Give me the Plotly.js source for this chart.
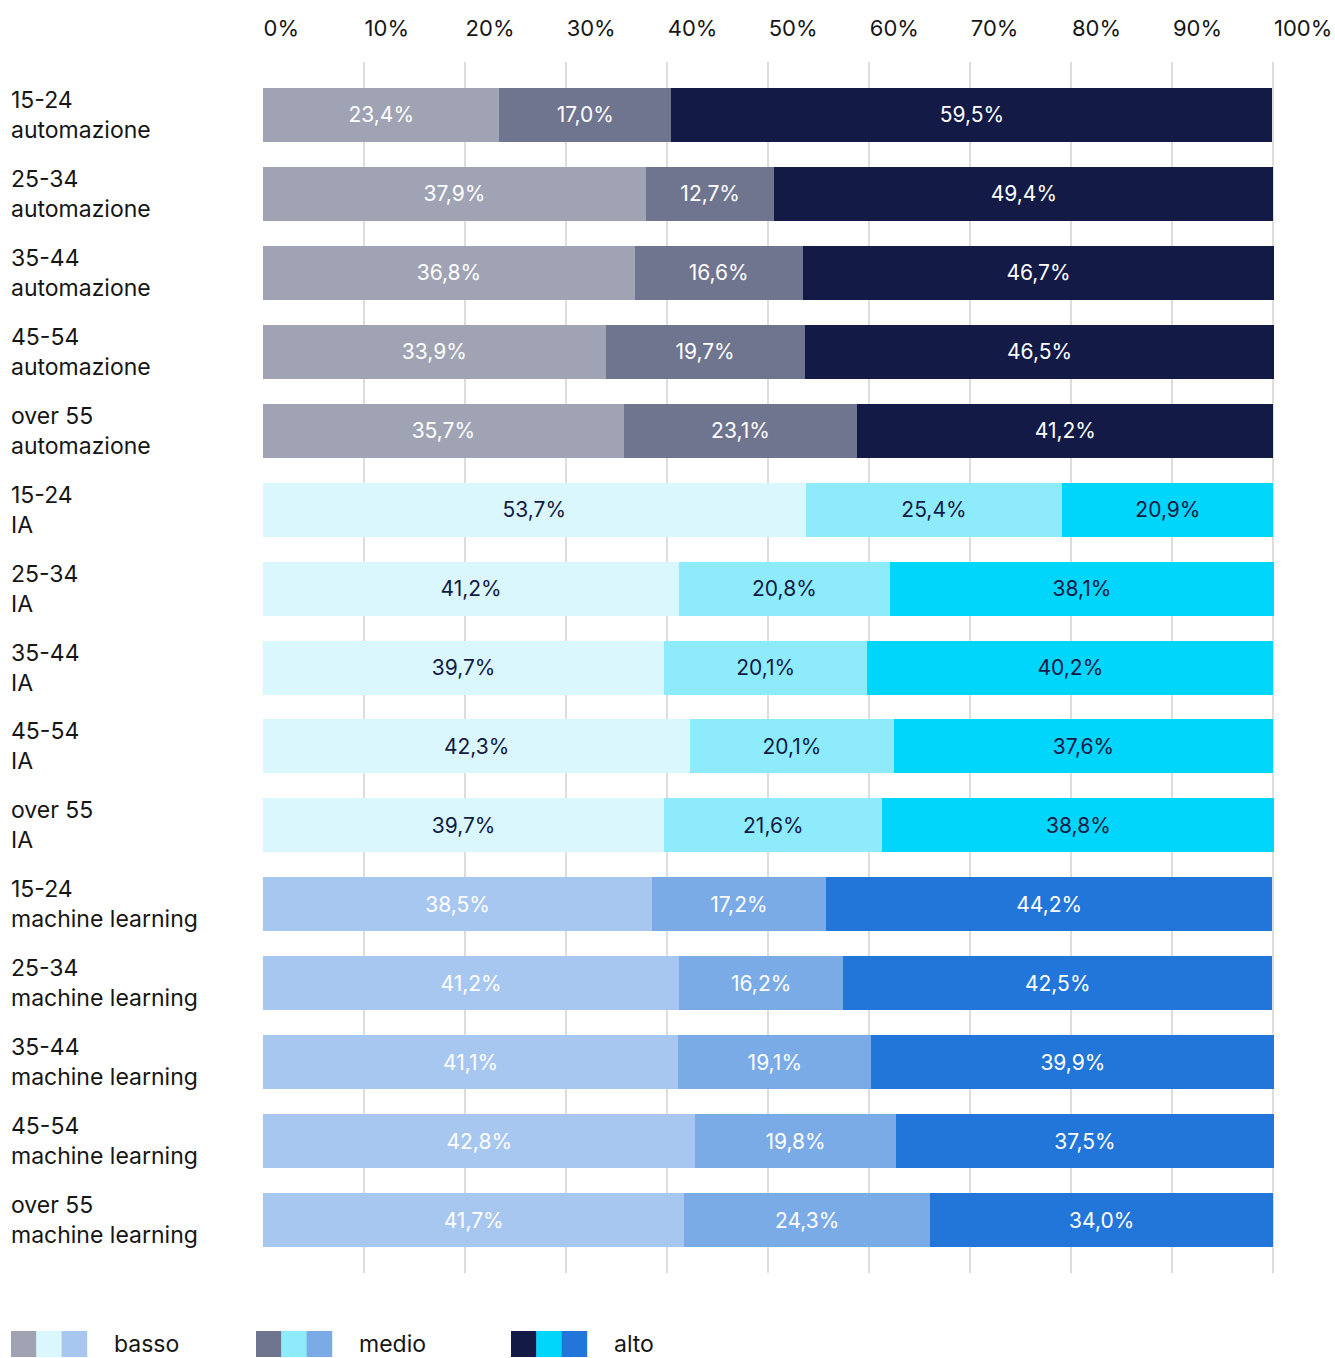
<!DOCTYPE html>
<html>
<head>
<meta charset="utf-8">
<script src="https://cdn.plot.ly/plotly-3.0.1.min.js"></script>
<style>
  html, body { margin: 0; padding: 0; background: #ffffff; }
  #chart { width: 1335px; height: 1358px; }
</style>
</head>
<body>
<div id="chart"></div>
<script>
// ---- data ----
const ages = ["15-24", "25-34", "35-44", "45-54", "over 55",
              "15-24", "25-34", "35-44", "45-54", "over 55",
              "15-24", "25-34", "35-44", "45-54", "over 55"];
const groups = ["automazione", "automazione", "automazione", "automazione", "automazione",
                "IA", "IA", "IA", "IA", "IA",
                "machine learning", "machine learning", "machine learning", "machine learning", "machine learning"];
const basso = [23.4, 37.9, 36.8, 33.9, 35.7, 53.7, 41.2, 39.7, 42.3, 39.7, 38.5, 41.2, 41.1, 42.8, 41.7];
const medio = [17.0, 12.7, 16.6, 19.7, 23.1, 25.4, 20.8, 20.1, 20.1, 21.6, 17.2, 16.2, 19.1, 19.8, 24.3];
const alto  = [59.5, 49.4, 46.7, 46.5, 41.2, 20.9, 38.1, 40.2, 37.6, 38.8, 44.2, 42.5, 39.9, 37.5, 34.0];
const levelNames = ["basso", "medio", "alto"];
const tickValues = [0, 10, 20, 30, 40, 50, 60, 70, 80, 90, 100];
const tickLabels = ["0%", "10%", "20%", "30%", "40%", "50%", "60%", "70%", "80%", "90%", "100%"];

// ---- styles ----
const palette = {
  "automazione":      { basso: "#a0a3b4", medio: "#6f758f", alto: "#121a45", text: "#ffffff" },
  "IA":               { basso: "#d9f7fc", medio: "#8eebfb", alto: "#00d5fb", text: "#121a45" },
  "machine learning": { basso: "#a7c7f0", medio: "#7aabe6", alto: "#2376d9", text: "#ffffff" }
};
const FONT = "Inter, 'Noto Sans', sans-serif";

const W = 1335, H = 1358;
const M = { l: 263, r: 60, t: 62, b: 85 };
const plotW = W - M.l - M.r, plotH = H - M.t - M.b;
const px2paperX = px => (px - M.l) / plotW;
const px2paperY = py => (H - M.b - py) / plotH;

const yIdx = ages.map((_, i) => i);
const fmt = v => v.toFixed(1).replace('.', ',') + '%';

const series = { basso, medio, alto };
const traces = levelNames.map(level => ({
  type: 'bar',
  orientation: 'h',
  name: level,
  y: yIdx,
  x: series[level],
  text: series[level].map(fmt),
  textposition: 'inside',
  insidetextanchor: 'middle',
  constraintext: 'none',
  textangle: 0,
  textfont: { family: FONT, size: 21, color: groups.map(g => palette[g].text) },
  marker: { color: groups.map(g => palette[g][level]), line: { width: 0 } },
  hoverinfo: 'skip',
  cliponaxis: false
}));

// y-axis labels as left-aligned annotations
const annotations = yIdx.map(i => ({
  xref: 'paper', yref: 'y',
  x: px2paperX(9), y: i,
  xanchor: 'left', yanchor: 'middle', align: 'left',
  text: ages[i] + '<br>' + groups[i],
  showarrow: false,
  font: { family: FONT, size: 23, color: '#161616' }
}));

// custom legend
const shapes = [];
const legendX = [11, 256, 511];
const groupKeys = ["automazione", "IA", "machine learning"];
levelNames.forEach((level, li) => {
  groupKeys.forEach((g, gi) => {
    const x0 = legendX[li] + gi * 25.3;
    shapes.push({
      type: 'rect', xref: 'paper', yref: 'paper',
      x0: px2paperX(x0), x1: px2paperX(x0 + 25.6),
      y0: px2paperY(1357), y1: px2paperY(1331),
      fillcolor: palette[g][level], line: { width: 0 }, layer: 'above'
    });
  });
  annotations.push({
    xref: 'paper', yref: 'paper',
    x: px2paperX(legendX[li] + 101), y: px2paperY(1344),
    xanchor: 'left', yanchor: 'middle',
    text: level, showarrow: false,
    font: { family: FONT, size: 23, color: '#161616' }
  });
});

const layout = {
  width: W, height: H,
  margin: M,
  barmode: 'stack',
  bargap: 0.316,
  showlegend: false,
  paper_bgcolor: '#ffffff',
  plot_bgcolor: '#ffffff',
  font: { family: FONT, size: 22, color: '#161616' },
  xaxis: {
    side: 'top',
    range: [0, 100.15],
    tickmode: 'array',
    tickvals: tickValues,
    ticktext: tickLabels,
    ticklabelposition: 'outside right',
    ticklabelstandoff: 16,
    ticks: 'outside', ticklen: 4, tickcolor: 'rgba(0,0,0,0)',
    tickfont: { family: FONT, size: 22, color: '#161616' },
    showgrid: true, gridcolor: '#dddddd', gridwidth: 2,
    zeroline: false, showline: false, fixedrange: true
  },
  yaxis: {
    range: [14.67, -0.67],
    showticklabels: false, showgrid: false, zeroline: false, showline: false,
    ticks: '', fixedrange: true
  },
  annotations: annotations,
  shapes: shapes
};

Plotly.newPlot('chart', traces, layout, { displayModeBar: false, staticPlot: true });
</script>
</body>
</html>
